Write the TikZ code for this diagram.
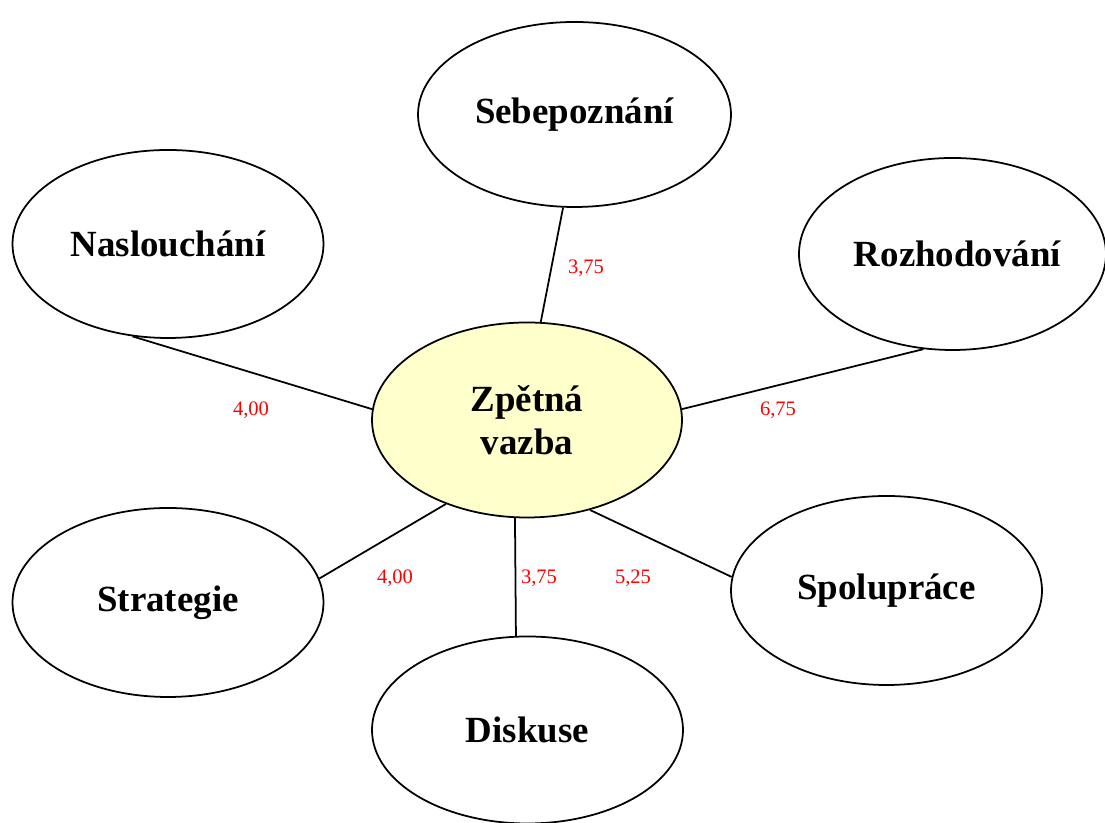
\documentclass[tikz,border=0pt]{standalone}
\usepackage{fontspec}
\setmainfont{Liberation Serif}
\usetikzlibrary{shapes.geometric}
\definecolor{paleyellow}{RGB}{255,255,204}
\tikzset{
	bubble/.style={ellipse, draw, line width=1pt, inner sep=0pt, align=center,
		minimum width=6.22cm, minimum height=3.78cm,
		font=\fontsize{21}{24.5}\selectfont\bfseries},
	link/.style={line width=1pt},
	weight/.style={text=red, inner sep=0pt, font=\fontsize{11.7}{14}\selectfont}
}
\begin{document}
\begin{tikzpicture}
		\useasboundingbox (0,0) rectangle (22.1,16.46);

		%center
		\node[bubble, fill=paleyellow, minimum width=6.2cm, minimum height=3.9cm] (zv) at (10.54,8.06) {Zpětná\\vazba};

		%outer bubbles
		\node[bubble, minimum width=6.26cm, minimum height=3.7cm] (seb) at (11.49,14.17) {Sebepoznání};
		\node[bubble, minimum height=3.76cm] (nas) at (3.36,11.58) {Naslouchání};
		\node[bubble, minimum width=6.02cm, minimum height=3.84cm] (roz) at (19.05,11.38) {\hspace{0.2cm}Rozhodování};
		\node[bubble] (str) at (3.36,4.41) {Strategie};
		\node[bubble] (spo) at (17.73,4.65) {Spolupráce};
		\node[bubble, minimum height=3.74cm] (dis) at (10.55,1.86) {Diskuse};

		%links
		\draw[link] (seb.-97) -- (zv.82);
		\draw[link] (nas.-111) -- (zv.176);
		\draw[link] (roz.-107) -- (zv.4);
		\draw[link] (str.9) -- (zv.-134);
		\draw[link] (dis.97) -- (zv.-97);
		\draw[link] (spo.175) -- (zv.-55);

		%weights
		\node[weight] (w1) at (11.72,11.1) {3,75};
		\node[weight] (w2) at (5.02,8.26) {4,00};
		\node[weight] (w3) at (15.56,8.26) {6,75};
		\node[weight] (w4) at (7.9,4.9) {4,00};
		\node[weight] (w5) at (10.78,4.9) {3,75};
		\node[weight] (w6) at (12.66,4.9) {5,25};

	\end{tikzpicture}
\end{document}
